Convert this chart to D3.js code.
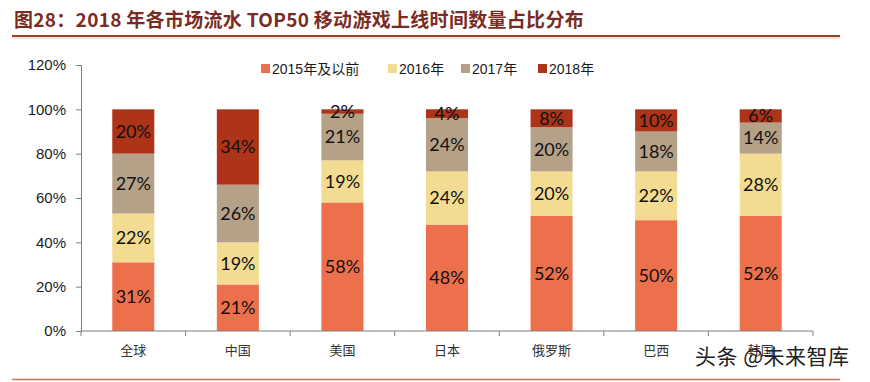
<!DOCTYPE html>
<meta charset="utf-8">
<style>
  body { margin: 0; background: #fff; }
  text { font-family: "Liberation Sans", Arial, sans-serif; }
</style>
<svg width="870" height="382"></svg>
<script src="https://cdn.jsdelivr.net/npm/d3@7/dist/d3.min.js"></script>
<script>

var categories = ["全球", "中国", "美国", "日本", "俄罗斯", "巴西", "韩国"];
var seriesNames = ["2015年及以前", "2016年", "2017年", "2018年"];
var y2015 = [31, 21, 58, 48, 52, 50, 52];
var y2016 = [22, 19, 19, 24, 20, 22, 28];
var y2017 = [27, 26, 21, 24, 20, 18, 14];
var y2018 = [20, 34, 2, 4, 8, 10, 6];
var yTicks = [0, 20, 40, 60, 80, 100, 120];
var colors = ["#ED704D", "#F3DC92", "#B5A188", "#AD3418"];

var svg = d3.select("svg"),
    margin = {top: 65, right: 57, bottom: 51, left: 81},
    width = +svg.attr("width") - margin.left - margin.right,
    height = +svg.attr("height") - margin.top - margin.bottom,
    g = svg.append("g").attr("transform", "translate(" + margin.left + "," + margin.top + ")");

// title
svg.append("text")
    .attr("x", 14)
    .attr("y", 27)
    .attr("fill", "#7A2C24")
    .style("font-family", "'Noto Sans CJK SC', sans-serif")
    .style("font-weight", "bold")
    .style("font-size", "19px")
    .style("letter-spacing", "0.3px")
    .text("图28：2018 年各市场流水 TOP50 移动游戏上线时间数量占比分布");

svg.append("line").attr("x1", 12).attr("x2", 840).attr("y1", 36).attr("y2", 36)
    .attr("stroke", "#9C4327").attr("stroke-width", 2);
svg.append("line").attr("x1", 12).attr("x2", 840).attr("y1", 38).attr("y2", 38)
    .attr("stroke", "#F2C3B0").attr("stroke-width", 1);
svg.append("line").attr("x1", 12).attr("x2", 840).attr("y1", 379.5).attr("y2", 379.5)
    .attr("stroke", "#C8735A").attr("stroke-width", 1.5);

var data = categories.map(function(c, i) {
  return {cat: c, s0: y2015[i], s1: y2016[i], s2: y2017[i], s3: y2018[i]};
});
var keys = ["s0", "s1", "s2", "s3"];
var stacked = d3.stack().keys(keys)(data);

var x = d3.scaleBand()
    .domain(categories)
    .range([0, width])
    .paddingInner(0.598)
    .paddingOuter(0.299);

var y = d3.scaleLinear()
    .domain([0, 120])
    .range([height, 0]);

// y axis
var yAxis = g.append("g")
    .call(d3.axisLeft(y).tickValues(yTicks).tickSize(5).tickFormat(function(d) { return d + "%"; }));
yAxis.select(".domain").attr("stroke", "#7f7f7f");
yAxis.selectAll(".tick line").attr("stroke", "#7f7f7f");
yAxis.selectAll(".tick text")
    .attr("x", -15)
    .attr("fill", "#1a1a1a")
    .style("font-size", "15px")
    .style("font-family", "'Liberation Sans', Arial, sans-serif");

// bars
var layer = g.selectAll(".layer")
  .data(stacked)
  .enter().append("g")
    .attr("fill", function(d, i) { return colors[i]; });

layer.selectAll("rect")
  .data(function(d) { return d; })
  .enter().append("rect")
    .attr("x", function(d) { return x(d.data.cat); })
    .attr("y", function(d) { return y(d[1]); })
    .attr("height", function(d) { return y(d[0]) - y(d[1]); })
    .attr("width", x.bandwidth());

layer.selectAll(".lbl")
  .data(function(d) { return d; })
  .enter().append("text")
    .attr("x", function(d) { return x(d.data.cat) + x.bandwidth() / 2; })
    .attr("y", function(d) { return y((d[0] + d[1]) / 2); })
    .attr("dy", "0.35em")
    .attr("text-anchor", "middle")
    .attr("fill", "#111")
    .style("font-family", "Lato, 'Liberation Sans', sans-serif")
    .style("font-size", "18px")
    .text(function(d) { return (d[1] - d[0]) + "%"; });

// x axis with ticks at band boundaries
var xa = g.append("g").attr("transform", "translate(0," + height + ")");
xa.append("line").attr("x1", 0).attr("x2", width).attr("stroke", "#7f7f7f");
xa.selectAll(".bt")
  .data(d3.range(categories.length + 1))
  .enter().append("line")
    .attr("x1", function(i) { return i * x.step(); })
    .attr("x2", function(i) { return i * x.step(); })
    .attr("y1", 0).attr("y2", 5)
    .attr("stroke", "#7f7f7f");
xa.selectAll(".cl")
  .data(categories)
  .enter().append("text")
    .attr("x", function(d) { return x(d) + x.bandwidth() / 2; })
    .attr("y", 24)
    .attr("text-anchor", "middle")
    .attr("fill", "#333")
    .style("font-family", "'Noto Sans CJK SC', sans-serif")
    .style("font-size", "13px")
    .text(function(d) { return d; });

// legend
var legendX = [261, 388, 461, 538];
var legend = svg.selectAll(".legend")
  .data(seriesNames)
  .enter().append("g")
    .attr("transform", function(d, i) { return "translate(" + legendX[i] + ",69)"; });
legend.append("rect")
    .attr("x", 0).attr("y", -5).attr("width", 9).attr("height", 9)
    .attr("fill", function(d, i) { return colors[i]; });
legend.append("text")
    .attr("x", 11)
    .attr("dy", "0.35em")
    .attr("fill", "#1a1a1a")
    .style("font-family", "'Liberation Sans', 'Noto Sans CJK SC', sans-serif")
    .style("font-size", "14px")
    .text(function(d) { return d; });

// watermark
svg.append("text")
    .attr("x", 695)
    .attr("y", 364)
    .attr("fill", "#222")
    .style("font-family", "'Noto Sans CJK SC', sans-serif")
    .style("font-size", "21px")
    .style("letter-spacing", "0.5px")
    .text("头条 @未来智库");

</script>
